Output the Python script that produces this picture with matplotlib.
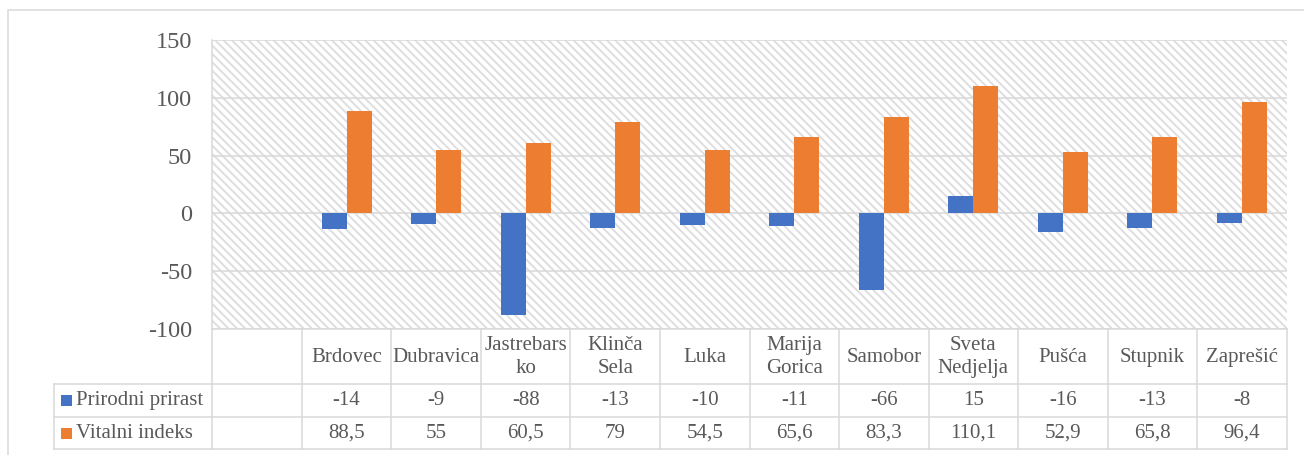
import matplotlib
matplotlib.use("Agg")
import matplotlib.pyplot as plt
from matplotlib.patches import Rectangle
from matplotlib.transforms import blended_transform_factory
from matplotlib.lines import Line2D

categories = ["", "Brdovec", "Dubravica", "Jastrebars\nko", "Klinča\nSela", "Luka",
              "Marija\nGorica", "Samobor", "Sveta\nNedjelja", "Pušća", "Stupnik", "Zaprešić"]
prirodni_prirast = [None, -14, -9, -88, -13, -10, -11, -66, 15, -16, -13, -8]
vitalni_indeks = [None, 88.5, 55, 60.5, 79, 54.5, 65.6, 83.3, 110.1, 52.9, 65.8, 96.4]
prirodni_labels = ["", "-14", "-9", "-88", "-13", "-10", "-11", "-66", "15", "-16", "-13", "-8"]
vitalni_labels = ["", "88,5", "55", "60,5", "79", "54,5", "65,6", "83,3", "110,1", "52,9", "65,8", "96,4"]
series_names = ["Prirodni prirast", "Vitalni indeks"]
yticks = [-100, -50, 0, 50, 100, 150]

BLUE = "#4472C4"
ORANGE = "#ED7D31"
GRID = "#d9d9d9"
TXT = "#595959"
FONT = "Liberation Serif"

DPI = 100
W, H = 1304, 455
fig = plt.figure(figsize=(W / DPI, H / DPI), dpi=DPI)

def fx(x): return x / W
def fy(y): return 1 - y / H

LW = 1.1
FS_TICK = 17.5
FS = 15

# outer chart border (extends past right/bottom)
fig.patches.append(Rectangle((fx(8), fy(470)), fx(1320 - 8), fy(10) - fy(470),
                             transform=fig.transFigure, facecolor="none",
                             edgecolor=GRID, lw=LW, clip_on=False))

L, R, T, B = 212.3, 1286.7, 40.0, 328.8
ax = fig.add_axes([fx(L), fy(B), fx(R - L), fy(T) - fy(B)])
ax.set_facecolor("none")
plt.rcParams["hatch.linewidth"] = 1.4
bg = Rectangle((0, 0), 1, 1, transform=ax.transAxes, facecolor="white",
               edgecolor="#dedede", hatch="\\\\\\\\", lw=0, zorder=0)
ax.add_patch(bg)

n = len(categories)
xs = [i + 0.5 for i in range(n)]
bw = 0.28
for i in range(n):
    if prirodni_prirast[i] is not None:
        ax.bar(xs[i] - bw / 2, prirodni_prirast[i], width=bw, color=BLUE, zorder=3)
    if vitalni_indeks[i] is not None:
        ax.bar(xs[i] + bw / 2, vitalni_indeks[i], width=bw, color=ORANGE, zorder=3)

ax.set_xlim(0, n)
ax.set_ylim(-100, 150)
ax.set_yticks(yticks)
ax.set_yticklabels([str(t) for t in yticks], fontfamily=FONT, fontsize=FS_TICK, color=TXT)
ax.set_xticks([])
ax.tick_params(axis="y", length=0, pad=14.5)
ax.set_axisbelow(True)
ax.grid(axis="y", color=GRID, lw=LW, zorder=1)
for s in ["top", "right", "bottom"]:
    ax.spines[s].set_visible(False)
ax.spines["left"].set_color(GRID)
ax.spines["left"].set_linewidth(LW)

# data table
tr = blended_transform_factory(ax.transData, fig.transFigure)
y_head_top, y_r1, y_r2, y_bot = 328.8, 383.5, 416.8, 449.3
tbl_left = 53.5

def hline(x0, x1, y, transform):
    fig.add_artist(Line2D([x0, x1], [fy(y), fy(y)], transform=transform,
                          color=GRID, lw=LW, clip_on=False))

def vline(x, y0, y1, transform):
    fig.add_artist(Line2D([x, x], [fy(y0), fy(y1)], transform=transform,
                          color=GRID, lw=LW, clip_on=False))

hline(0, n, y_head_top, tr)
for y in (y_r1, y_r2, y_bot):
    fig.add_artist(Line2D([fx(tbl_left), fx(L)], [fy(y), fy(y)], transform=fig.transFigure,
                          color=GRID, lw=LW))
    hline(0, n, y, tr)
vline(fx(tbl_left), y_r1, y_bot, fig.transFigure)
for i in range(n + 1):
    vline(i, y_head_top, y_bot, tr)

for i in range(n):
    fig.text(xs[i], fy((y_head_top + y_r1) / 2 + 1), categories[i], transform=tr,
             ha="center", va="center", fontfamily=FONT, fontsize=FS, color=TXT,
             linespacing=1.25)
    fig.text(xs[i], fy((y_r1 + y_r2) / 2), prirodni_labels[i], transform=tr,
             ha="center", va="center", fontfamily=FONT, fontsize=FS, color=TXT)
    fig.text(xs[i], fy((y_r2 + y_bot) / 2), vitalni_labels[i], transform=tr,
             ha="center", va="center", fontfamily=FONT, fontsize=FS, color=TXT)

for name, col, (ya, yb) in zip(series_names, [BLUE, ORANGE], [(y_r1, y_r2), (y_r2, y_bot)]):
    yc = (ya + yb) / 2
    fig.patches.append(Rectangle((fx(61), fy(yc + 5.5)), fx(11), fy(yc - 5.5) - fy(yc + 5.5),
                                 transform=fig.transFigure, facecolor=col, edgecolor="none"))
    fig.text(fx(75.5), fy(yc), name, ha="left", va="center",
             fontfamily=FONT, fontsize=FS, color=TXT)

fig.savefig("out.png", dpi=DPI)
